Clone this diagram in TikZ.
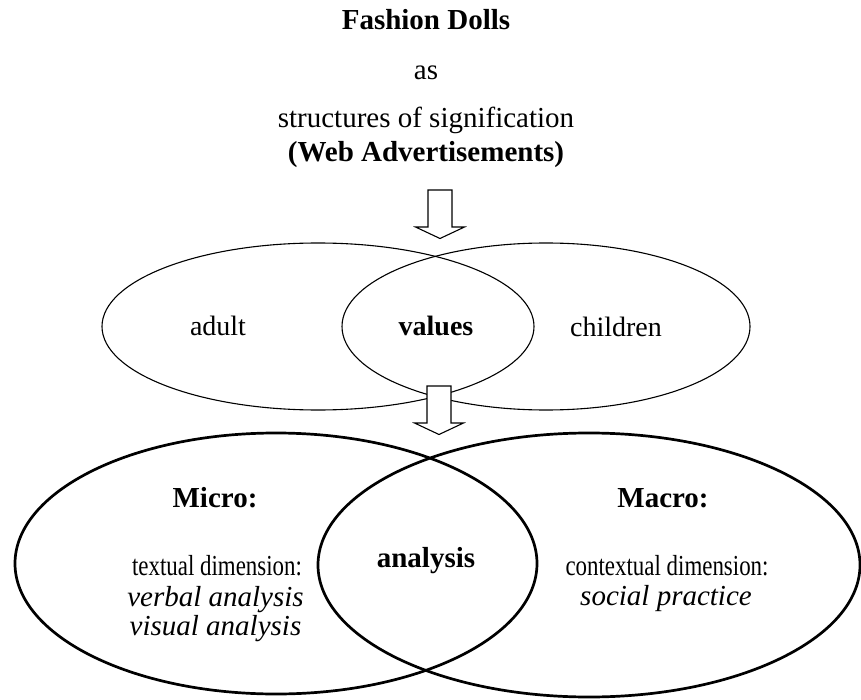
\documentclass[tikz,border=0pt]{standalone}
\usepackage{fontspec}
\usepackage{graphicx}
\setmainfont{Liberation Serif}
\usetikzlibrary{shapes.geometric}
% narrow setting of the dimension lines
\newcommand{\squeeze}[1]{\scalebox{0.79}[1]{#1}}

\begin{document}
\begin{tikzpicture}[x=1pt,y=-1pt,
	headtext/.style={anchor=base,inner sep=0pt,font=\fontsize{29}{34}\selectfont},
	bodytext/.style={anchor=base,inner sep=0pt,font=\fontsize{28}{33}\selectfont},
	thinring/.style={draw,ellipse,line width=1.1pt,inner sep=0pt},
	thickring/.style={draw,ellipse,line width=2.7pt,inner sep=0pt},
	blockarrow/.style={draw,fill=white,line width=1.1pt,line join=miter}]
	\useasboundingbox (0,0) rectangle (861,700);
	% heading lines
	\node[headtext,font=\fontsize{29}{34}\selectfont\bfseries] (dolls) at (426,30) {Fashion Dolls};
	\node[headtext] (as) at (426,80) {as};
	\node[headtext] (structures) at (426,128) {structures of signification};
	\node[headtext,font=\fontsize{29}{34}\selectfont\bfseries] (web) at (426,162) {(Web Advertisements)};
	% first hollow arrow
	\coordinate (toparrow) at (440,190);
	\draw[blockarrow] (toparrow) ++(-12,0) -- ++(24,0) -- ++(0,37) -- ++(12.5,0)
	-- ++(-24.5,11.5) -- ++(-24.5,-11.5) -- ++(12.5,0) -- cycle;
	% upper pair of ellipses
	\node[thinring,minimum width=432pt,minimum height=167pt] (adultring) at (318,326.5) {};
	\node[thinring,minimum width=408pt,minimum height=167pt] (childring) at (546,326.5) {};
	\node[bodytext] (adult) at (218,335) {adult};
	\node[bodytext,font=\fontsize{28}{33}\selectfont\bfseries] (values) at (436,335) {values};
	\node[bodytext] (children) at (616,336) {children};
	% second hollow arrow, white fill hides the ellipse lines
	\coordinate (midarrow) at (439,386);
	\draw[blockarrow] (midarrow) ++(-12,0) -- ++(24,0) -- ++(0,37) -- ++(12.5,0)
	-- ++(-24.5,11.5) -- ++(-24.5,-11.5) -- ++(12.5,0) -- cycle;
	% lower pair of ellipses
	\node[thickring,minimum width=522pt,minimum height=261pt] (microring) at (276,563.5) {};
	\node[thickring,minimum width=542pt,minimum height=264pt] (macroring) at (589,565) {};
	\node[headtext,font=\fontsize{29}{34}\selectfont\bfseries] (micro) at (215,507) {Micro:};
	\node[headtext] (textual) at (217,575) {\squeeze{textual dimension:}};
	\node[headtext,font=\fontsize{29}{34}\selectfont\itshape] (verbal) at (215.5,606) {verbal analysis};
	\node[headtext,font=\fontsize{29}{34}\selectfont\itshape] (visual) at (215.5,635) {visual analysis};
	\node[headtext,font=\fontsize{29}{34}\selectfont\bfseries] (analysis) at (426,567) {analysis};
	\node[headtext,font=\fontsize{29}{34}\selectfont\bfseries] (macro) at (663,507) {Macro:};
	\node[headtext] (contextual) at (667,575) {\squeeze{contextual dimension:}};
	\node[headtext,font=\fontsize{29}{34}\selectfont\itshape] (social) at (666,605) {social practice};
\end{tikzpicture}
\end{document}
